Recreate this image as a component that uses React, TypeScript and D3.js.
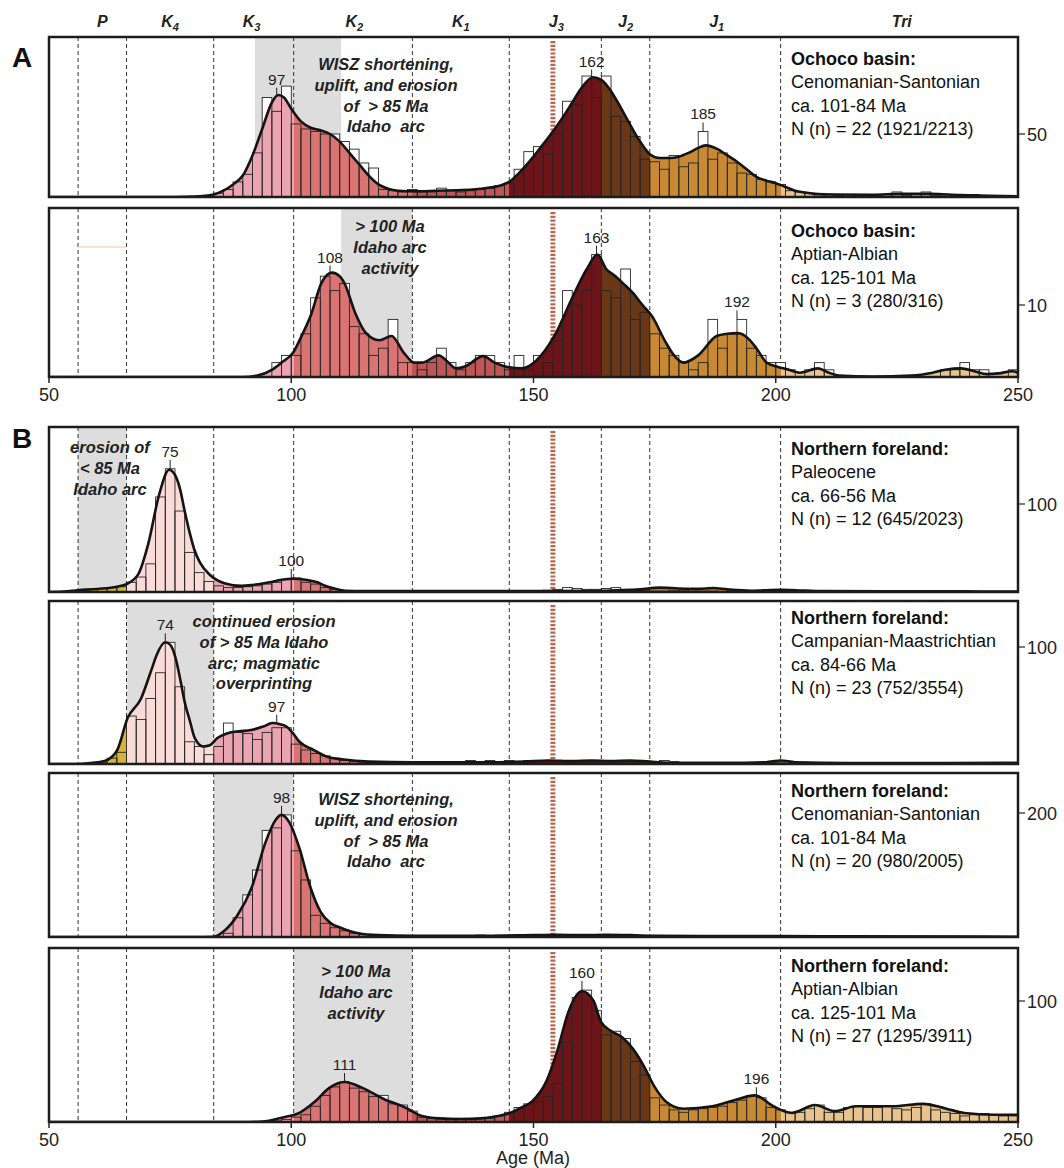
import React from "react";
import * as d3 from "d3";

type Pt = [number, number];

// ---------- shared data ----------
const ageDomain: [number, number] = [50, 250];
const binWidth = 2;
const periodBounds = [56, 66, 84, 100.5, 125, 145, 164, 174, 201];
const periodNames = ["P", "K", "K", "K", "K", "J", "J", "J", "Tri"];
const periodSubs = ["", "4", "3", "2", "1", "3", "2", "1", ""];
const periodLabelAges = [61, 75, 91.8, 113, 135, 154.7, 169, 187.8, 226];
const fillEdges = [50, 66, 84, 100.5, 125, 145, 164, 174, 201, 250];
const fillColors = ["#d8b23f", "#f9dbd7", "#eba5b2", "#da7473", "#bd5654", "#6c1418", "#6a3816", "#c78933", "#e9c38d"];
const markerAge = 154;
const xTickValues = [50, 100, 150, 200, 250];

// ---------- panel A1: Ochoco basin, Cenomanian-Santonian ----------
const a1Kde: Pt[] = [
  [50, 0], [76, 0], [80, 0.3], [84, 2], [86, 5], [88, 10], [90, 17], [92, 33], [94, 54], [96, 75], [97.3, 81], [98.5, 79],
  [100, 70], [102, 60], [104, 55], [106, 53], [108, 50], [110, 44], [112, 35], [114, 26], [116, 17], [118, 10], [120, 6.5],
  [122, 5], [126, 4.5], [130, 5], [135, 5.5], [140, 7], [143, 9], [145, 12], [147, 19], [150, 32], [152, 42], [154, 52],
  [156, 63], [158, 75], [160, 87], [162.3, 95], [164, 93], [166, 84], [168, 71], [170, 57], [172, 44], [174, 34], [176, 31], [178, 31],
  [180, 32], [182, 35], [184, 39], [185.5, 41], [188, 38], [190, 33], [192, 28], [194, 22], [196, 16], [198, 13], [200, 11],
  [202, 8], [204, 5], [206, 3.5], [208, 2.5], [212, 2], [220, 1.8], [226, 2.5], [232, 2.5], [238, 1.5], [244, 1], [250, 0.5],
];
const a1HistStart = 80;
const a1Hist = [
  0, 1, 3, 6, 12, 18, 35, 79, 68, 88, 58, 54, 52, 50, 50, 44, 38, 27, 23, 6,
  5, 4, 6, 5, 4, 7, 5, 4, 5, 6, 7, 9, 11, 22, 36, 40, 34, 50, 76, 73,
  96, 79, 96, 64, 60, 48, 30, 28, 22, 33, 24, 27, 52, 30, 35, 27, 19, 18, 14, 12,
  10, 5, 4, 3, 2, 2, 1, 2, 1, 2, 1, 2, 4, 1, 2, 4, 1, 2, 1, 1, 2, 1, 0, 1, 1,
];
const a1Shade: [number, number] = [92.5, 110.3];
const a1PeakAges = [97, 162, 185];
const a1Note = ["WISZ shortening,", "uplift, and erosion", "of  > 85 Ma", "Idaho  arc"];
const a1Info = ["Ochoco basin:", "Cenomanian-Santonian", "ca. 101-84 Ma", "N (n) = 22 (1921/2213)"];

// ---------- panel A2: Ochoco basin, Aptian-Albian ----------
const a2Kde: Pt[] = [
  [50, 0], [90, 0], [93, 0.2], [96, 1], [98, 2], [100.4, 3.4], [102, 5.5], [104, 8.5], [106.2, 13], [108.4, 14.5], [110, 14],
  [111, 13], [113.2, 8.9], [115.3, 6.2], [118.2, 5.1], [120.7, 5.7], [123.2, 3.4], [125.4, 2], [127, 2], [130.4, 3], [132, 2.3],
  [134, 1.2], [136, 1.5], [139.6, 2.9], [142, 2], [144.6, 1.4], [147.6, 1.2], [150.6, 2.3], [154.3, 5.7], [158, 11], [161, 15],
  [163.2, 17], [165, 15], [166.9, 14], [168.5, 13], [170.6, 11.6], [172.5, 10], [174.4, 8.5], [177.3, 4.8], [179, 3], [181, 2],
  [184, 3], [187.8, 5.7], [190, 6], [192.2, 6.1], [194.4, 5.3], [196, 4], [198.1, 2], [200, 1.5], [202.7, 1], [205, 0.6],
  [208.7, 1.2], [211, 0.6], [213, 0.2], [220, 0.05], [228, 0.2], [232.4, 0.6], [235, 1], [238.2, 1.2], [241, 0.8], [243.6, 0.4],
  [246, 0.5], [248.8, 0.8], [250, 0.6],
];
const a2HistStart = 94;
const a2Hist = [
  0, 2, 3, 3, 6, 11, 14, 12, 13, 7, 6, 3, 4, 8, 2, 2, 1, 2, 4, 2,
  1, 2, 3, 3, 2, 1, 3, 1, 3, 2, 5, 12, 10, 12, 17, 12, 11, 15, 8, 9,
  6, 4, 3, 2, 1, 2, 8, 4, 6, 8, 4, 3, 2, 2, 1, 0, 1, 2, 1, 0,
  0, 0, 0, 0, 0, 0, 0, 0, 0, 0, 1, 1, 2, 1, 1, 0, 0, 1,
];
const a2Shade: [number, number] = [110.3, 125];
const a2PeakAges = [108, 163, 192];
const a2Note = ["> 100 Ma", "Idaho arc", "activity"];
const a2Info = ["Ochoco basin:", "Aptian-Albian", "ca. 125-101 Ma", "N (n) = 3 (280/316)"];

// ---------- panel B1: Northern foreland, Paleocene ----------
const b1Kde: Pt[] = [
  [50, 0], [53, 0.5], [56, 2], [60, 3.5], [64, 6], [66, 9], [68.4, 20], [70.5, 55], [72.7, 110], [74.8, 139], [76, 133],
  [77, 118], [78, 92], [79.1, 66], [80, 48], [81.2, 33], [83.3, 19], [86.2, 10], [89.7, 7], [92, 8], [95.5, 11], [98, 14],
  [100.4, 15], [103, 14], [105.4, 11], [107, 7], [108.9, 4], [111.2, 1.5], [115, 1], [130, 1], [145, 1.2], [155, 1],
  [165, 1.5], [172, 3], [176, 5], [180, 4], [184, 3.5], [187, 4.5], [190, 3], [195, 1.5], [201, 2.5], [204, 2], [210, 1],
  [230, 0.8], [250, 0.5],
];
const b1HistStart = 54;
const b1Hist = [
  1, 2, 3, 4, 5, 6, 11, 17, 32, 108, 140, 92, 45, 22, 12, 7, 5, 5, 6, 7,
  9, 11, 14, 16, 11, 9, 5, 3, 1, 1, 0, 1, 0, 1, 1, 0, 1, 1, 0, 1,
  1, 1, 0, 1, 1, 1, 1, 1, 1, 2, 3, 5, 4, 3, 3, 4, 5, 3, 2, 1,
  1, 1, 2, 2, 1, 1, 1, 0, 1, 1, 0, 1, 1, 1, 0, 1, 1, 0, 1, 1, 1, 0, 1, 0, 1, 1, 0, 0,
];
const b1Shade: [number, number] = [56, 66];
const b1PeakAges = [75, 100];
const b1Note = ["erosion of", "< 85 Ma", "Idaho arc"];
const b1Info = ["Northern foreland:", "Paleocene", "ca. 66-56 Ma", "N (n) = 12 (645/2023)"];

// ---------- panel B2: Northern foreland, Campanian-Maastrichtian ----------
const b2Kde: Pt[] = [
  [50, 0], [56, 0], [58, 0.5], [60, 1.5], [61.8, 3], [64.1, 12], [66.2, 39], [69, 56], [71.1, 80], [72.2, 93], [74, 104],
  [75, 102], [76.1, 91], [77.2, 70], [77.9, 55], [79.2, 35], [80, 23], [81.8, 15], [83.2, 16], [84.7, 22], [87.4, 27],
  [89.2, 28], [91.7, 29], [94.2, 32], [96.1, 35], [97.7, 34], [99, 32], [100.2, 27], [101.7, 19], [104.6, 12], [107.5, 6],
  [110.4, 4], [116, 2], [125, 1.5], [140, 1.5], [148, 2], [153, 3], [158, 2.5], [162, 3], [166, 2.5], [170, 3], [174, 2],
  [180, 1], [190, 1], [198, 1.5], [201, 3], [204, 1.5], [215, 0.8], [235, 0.8], [250, 1],
];
const b2HistStart = 58;
const b2Hist = [
  0, 1, 5, 10, 41, 38, 56, 78, 104, 66, 19, 15, 8, 15, 35, 27, 26, 21, 27, 31,
  31, 17, 12, 9, 7, 5, 3, 2, 1, 2, 1, 1, 2, 1, 1, 2, 1, 2, 2, 3,
  2, 3, 2, 3, 2, 3, 3, 2, 2, 1, 1, 1, 1, 1, 1, 1, 1, 2, 2, 3,
  2, 1, 1, 1, 0, 1, 1, 1, 0, 1, 1, 1, 0, 1, 1, 1, 1, 0, 1, 1, 1, 1, 1, 1, 1, 1,
];
const b2Shade: [number, number] = [66, 84];
const b2PeakAges = [74, 97];
const b2Note = ["continued erosion", "of > 85 Ma Idaho", "arc; magmatic", "overprinting"];
const b2Info = ["Northern foreland:", "Campanian-Maastrichtian", "ca. 84-66 Ma", "N (n) = 23 (752/3554)"];

// ---------- panel B3: Northern foreland, Cenomanian-Santonian ----------
const b3Kde: Pt[] = [
  [50, 0], [80, 0], [84, 0.5], [86.2, 10], [88.9, 35], [91.8, 79], [94.7, 153], [96.8, 189], [98, 197], [99.6, 185],
  [101.7, 143], [104, 79], [106.1, 40], [108.2, 22], [110.2, 15], [113.9, 6], [118, 3], [125, 2], [140, 2], [150, 3],
  [155, 3.5], [160, 3], [165, 3.5], [170, 3], [175, 2], [185, 1.5], [200, 1.5], [215, 1], [250, 0.5],
];
const b3HistStart = 84;
const b3Hist = [
  1, 6, 31, 68, 108, 172, 176, 197, 139, 92, 35, 22, 15, 10, 6, 4, 3, 2, 2, 2,
  1, 2, 2, 1, 2, 2, 2, 3, 2, 3, 3, 4, 3, 3, 3, 4, 3, 3, 3, 2,
  2, 2, 1, 2, 1, 1, 2, 1, 1, 2, 1, 1, 1, 1, 1, 1, 1, 0, 1, 1,
  1, 0, 1, 1, 0, 1, 0, 1, 0, 1, 0, 1, 0, 1, 0, 0, 1, 0, 0,
];
const b3Shade: [number, number] = [84, 100.5];
const b3PeakAges = [98];
const b3Note = ["WISZ shortening,", "uplift, and erosion", "of  > 85 Ma", "Idaho  arc"];
const b3Info = ["Northern foreland:", "Cenomanian-Santonian", "ca. 101-84 Ma", "N (n) = 20 (980/2005)"];

// ---------- panel B4: Northern foreland, Aptian-Albian ----------
const b4Kde: Pt[] = [
  [50, 0], [90, 0], [94, 0.3], [98.5, 4], [101.4, 7], [104.9, 17], [107.8, 28], [111, 33], [114.8, 28], [119.1, 19],
  [123.5, 12], [127, 5], [130.5, 3], [135, 2.5], [139.2, 3], [142, 4.5], [144.8, 7], [147, 11], [149.7, 17], [152.7, 34],
  [155, 60], [157.2, 91], [160, 108], [162.4, 100], [163.9, 83], [166.1, 75], [168.3, 70], [170.6, 60], [172.8, 46],
  [175, 29], [177.3, 17], [181, 11], [186.9, 13], [191.4, 18], [195.7, 22], [199.5, 13], [203.3, 7.5], [208.1, 14],
  [212.2, 9], [216.6, 13], [224.1, 13], [230.4, 15], [235.2, 11], [238.9, 7.5], [245, 6], [250, 6],
];
const b4HistStart = 94;
const b4Hist = [
  0, 1, 2, 4, 6, 13, 22, 29, 33, 28, 25, 21, 22, 15, 14, 9, 4, 3, 3, 2,
  3, 2, 3, 3, 5, 8, 12, 15, 17, 21, 32, 66, 103, 109, 92, 72, 75, 69, 50, 39,
  20, 14, 10, 8, 10, 11, 12, 13, 16, 18, 22, 20, 12, 10, 8, 8, 11, 14, 8, 8,
  12, 13, 12, 12, 13, 11, 10, 12, 15, 10, 8, 7, 5, 6, 7, 6, 5, 5,
];
const b4Shade: [number, number] = [100.5, 125];
const b4PeakAges = [111, 160, 196];
const b4Note = ["> 100 Ma", "Idaho arc", "activity"];
const b4Info = ["Northern foreland:", "Aptian-Albian", "ca. 125-101 Ma", "N (n) = 27 (1295/3911)"];

// ---------- layout ----------
const FONT = "'Liberation Sans', Arial, Helvetica, sans-serif";
const W = 1064;
const H = 1168;
const X0 = 49;
const X1 = 1018;
const x = d3.scaleLinear().domain(ageDomain).range([X0, X1]);

type PanelCfg = {
  id: string; top: number; bottom: number; tick: number; tickY: number;
  kde: Pt[]; histStart: number; hist: number[]; shade: [number, number];
  peaks: number[]; note: string[]; noteX: number; noteY: number; info: string[]; infoY: number; axis: boolean;
};

const panels: PanelCfg[] = [
  { id: "a1", top: 37, bottom: 197, tick: 50, tickY: 134, kde: a1Kde, histStart: a1HistStart, hist: a1Hist, shade: a1Shade, peaks: a1PeakAges, note: a1Note, noteX: 386, noteY: 64, info: a1Info, infoY: 58, axis: false },
  { id: "a2", top: 208, bottom: 377, tick: 10, tickY: 305, kde: a2Kde, histStart: a2HistStart, hist: a2Hist, shade: a2Shade, peaks: a2PeakAges, note: a2Note, noteX: 390, noteY: 226, info: a2Info, infoY: 230, axis: true },
  { id: "b1", top: 427, bottom: 592, tick: 100, tickY: 504, kde: b1Kde, histStart: b1HistStart, hist: b1Hist, shade: b1Shade, peaks: b1PeakAges, note: b1Note, noteX: 110, noteY: 447, info: b1Info, infoY: 448, axis: false },
  { id: "b2", top: 601, bottom: 764, tick: 100, tickY: 647, kde: b2Kde, histStart: b2HistStart, hist: b2Hist, shade: b2Shade, peaks: b2PeakAges, note: b2Note, noteX: 264, noteY: 621, info: b2Info, infoY: 617, axis: false },
  { id: "b3", top: 773, bottom: 937, tick: 200, tickY: 813, kde: b3Kde, histStart: b3HistStart, hist: b3Hist, shade: b3Shade, peaks: b3PeakAges, note: b3Note, noteX: 386, noteY: 799, info: b3Info, infoY: 790, axis: false },
  { id: "b4", top: 948, bottom: 1122, tick: 100, tickY: 1001, kde: b4Kde, histStart: b4HistStart, hist: b4Hist, shade: b4Shade, peaks: b4PeakAges, note: b4Note, noteX: 356, noteY: 971, info: b4Info, infoY: 965, axis: true },
];

function kdeAt(pts: Pt[], a: number): number {
  const i = d3.bisector((d: Pt) => d[0]).left(pts, a);
  if (i <= 0) return pts[0][1];
  if (i >= pts.length) return pts[pts.length - 1][1];
  const [a0, v0] = pts[i - 1];
  const [a1, v1] = pts[i];
  return v0 + ((v1 - v0) * (a - a0)) / (a1 - a0);
}

function Panel({ p }: { p: PanelCfg }) {
  const y = d3.scaleLinear().domain([0, p.tick]).range([p.bottom, p.tickY]);
  const area = d3.area<Pt>().x((d) => x(d[0])).y0(p.bottom).y1((d) => y(d[1])).curve(d3.curveMonotoneX);
  const line = d3.line<Pt>().x((d) => x(d[0])).y((d) => y(d[1])).curve(d3.curveMonotoneX);
  const bins = p.hist.map((v, i) => ({ a0: p.histStart + i * binWidth, a1: p.histStart + (i + 1) * binWidth, v }));
  const clipId = `clip-${p.id}`;
  const noteDy = 20.8;
  const infoDy = 23.6;
  return (
    <g>
      <defs>
        <clipPath id={clipId}>
          <rect x={X0} y={p.top} width={X1 - X0} height={p.bottom - p.top} />
        </clipPath>
      </defs>
      <rect x={X0} y={p.top} width={X1 - X0} height={p.bottom - p.top} fill="#fff" />
      <g clipPath={`url(#${clipId})`}>
        <rect x={x(p.shade[0])} y={p.top} width={x(p.shade[1]) - x(p.shade[0])} height={p.bottom - p.top} fill="#dddddd" />
        {periodBounds.map((b) => (
          <line key={b} x1={x(b)} x2={x(b)} y1={p.top} y2={p.bottom} stroke="#333" strokeWidth={1} strokeDasharray="4,3" />
        ))}
        <line x1={x(markerAge)} x2={x(markerAge)} y1={p.top + 4} y2={p.bottom} stroke="#b5674f" strokeWidth={5} strokeDasharray="2.2,1.6" />
        {p.id === "a2" && (
          <line x1={x(56)} x2={x(66)} y1={247} y2={247} stroke="#f4dcc2" strokeWidth={1.5} />
        )}
        {bins.filter((b) => b.v > 0).map((b) => (
          <rect key={`w${b.a0}`} x={x(b.a0)} y={y(b.v)} width={x(b.a1) - x(b.a0)} height={p.bottom - y(b.v)} fill="#fff" stroke="none" />
        ))}
        <path d={area(p.kde) || ""} fill="url(#periodGrad)" />
        {bins.filter((b) => b.v > 0).map((b) => (
          <rect key={`o${b.a0}`} x={x(b.a0)} y={y(b.v)} width={x(b.a1) - x(b.a0)} height={p.bottom - y(b.v)} fill="none" stroke="#262626" strokeWidth={0.9} />
        ))}
        <path d={line(p.kde) || ""} fill="none" stroke="#141414" strokeWidth={2.6} strokeLinejoin="round" />
      </g>
      {p.peaks.map((a) => {
        const bi = Math.floor((a - p.histStart) / binWidth);
        const hv = bi >= 0 && bi < p.hist.length ? p.hist[bi] : 0;
        const top = Math.min(y(kdeAt(p.kde, a)), y(hv));
        return (
          <g key={`pk${a}`}>
            <line x1={x(a)} x2={x(a)} y1={top} y2={top - 9} stroke="#222" strokeWidth={1} />
            <text x={x(a)} y={top - 12} textAnchor="middle" fontFamily={FONT} fontSize={15.5} fill="#222">{a}</text>
          </g>
        );
      })}
      <g fontFamily={FONT} fontSize={16.5} fontWeight="bold" fontStyle="italic" fill="#222" textAnchor="middle">
        {p.note.map((t, i) => (
          <text key={i} x={p.noteX} y={p.noteY + i * noteDy + 6} style={{ whiteSpace: "pre" }}>{t}</text>
        ))}
      </g>
      <g fontFamily={FONT} fontSize={18} fill="#111">
        {p.info.map((t, i) => (
          <text key={i} x={791} y={p.infoY + i * infoDy + 6.5} fontWeight={i === 0 ? "bold" : "normal"}>{t}</text>
        ))}
      </g>
      <rect x={X0} y={p.top} width={X1 - X0} height={p.bottom - p.top} fill="none" stroke="#1c1c1c" strokeWidth={2.5} />
      <line x1={X1} x2={X1 + 7} y1={p.tickY} y2={p.tickY} stroke="#222" strokeWidth={1.2} />
      <text x={X1 + 9} y={p.tickY + 6.5} fontFamily={FONT} fontSize={18} fill="#222">{p.tick}</text>
      {p.axis && (
        <g>
          {xTickValues.map((t) => (
            <g key={t}>
              <line x1={x(t)} x2={x(t)} y1={p.bottom} y2={p.bottom + 6} stroke="#222" strokeWidth={1.5} />
              <text x={x(t)} y={p.bottom + 24} textAnchor="middle" fontFamily={FONT} fontSize={18} fill="#222">{t}</text>
            </g>
          ))}
        </g>
      )}
    </g>
  );
}

export default function App() {
  const stops: { off: number; color: string }[] = [];
  fillColors.forEach((c, i) => {
    const o0 = (fillEdges[i] - ageDomain[0]) / (ageDomain[1] - ageDomain[0]);
    const o1 = (fillEdges[i + 1] - ageDomain[0]) / (ageDomain[1] - ageDomain[0]);
    stops.push({ off: o0, color: c }, { off: o1, color: c });
  });
  return (
    <svg width={W} height={H} style={{ position: "absolute", left: 0, top: 0, background: "#fff" }}>
      <defs>
        <linearGradient id="periodGrad" gradientUnits="userSpaceOnUse" x1={x(ageDomain[0])} x2={x(ageDomain[1])} y1={0} y2={0}>
          {stops.map((s, i) => (
            <stop key={i} offset={s.off} stopColor={s.color} />
          ))}
        </linearGradient>
      </defs>
      <rect x={0} y={0} width={W} height={H} fill="#fff" />
      <g fontFamily={FONT} fontSize={16} fontWeight="bold" fontStyle="italic" fill="#222" textAnchor="middle">
        {periodNames.map((n, i) => (
          <text key={i} x={x(periodLabelAges[i])} y={27}>
            {n}
            {periodSubs[i] && <tspan fontSize={11} dy={4}>{periodSubs[i]}</tspan>}
          </text>
        ))}
      </g>
      <text x={22} y={67} textAnchor="middle" fontFamily={FONT} fontSize={28} fontWeight="bold" fill="#111">A</text>
      <text x={22} y={448} textAnchor="middle" fontFamily={FONT} fontSize={28} fontWeight="bold" fill="#111">B</text>
      {panels.map((p) => (
        <Panel key={p.id} p={p} />
      ))}
      <text x={533} y={1164} textAnchor="middle" fontFamily={FONT} fontSize={18} fill="#222">Age (Ma)</text>
    </svg>
  );
}
